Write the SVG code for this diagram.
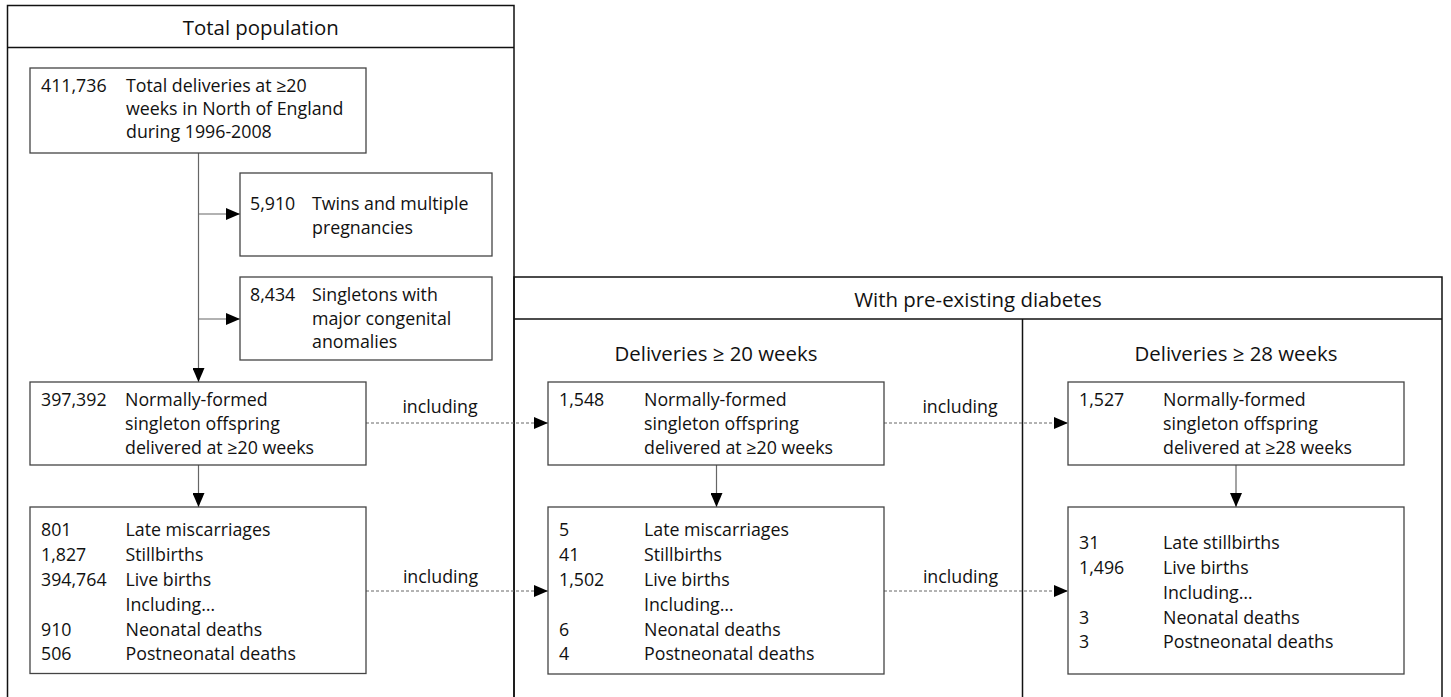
<svg xmlns="http://www.w3.org/2000/svg" width="1451" height="697" viewBox="0 0 1451 697">
<style>
  text { font-family: "Open Sans", "Liberation Sans", sans-serif; fill: #111; }
  .b { font-size: 17.8px; }
  .h { font-size: 20.4px; text-anchor: middle; }
  .lbl { font-size: 17.8px; text-anchor: middle; }
  .frame { fill: none; stroke: #111; stroke-width: 1.5; }
  .box { fill: #fff; stroke: #444; stroke-width: 1.3; }
  .solid { fill: none; stroke: #666; stroke-width: 1.2; marker-end: url(#arr); }
  .dash { fill: none; stroke: #666; stroke-width: 1; stroke-dasharray: 3 2; marker-end: url(#arr); }
</style>
<defs>
  <marker id="arr" viewBox="0 0 14 12" refX="14" refY="6" markerWidth="14" markerHeight="12" markerUnits="userSpaceOnUse" orient="auto">
    <path d="M0,0 L14,6 L0,12 Z" fill="#000"/>
  </marker>
</defs>

<rect width="1451" height="697" fill="#fff"/>

<g id="frame-total">
  <path class="frame" d="M7.5,705 V5.5 H514 V705"/>
  <line class="frame" x1="7.5" y1="47.5" x2="514" y2="47.5"/>
  <text class="h" x="260.75" y="35">Total population</text>
</g>

<g id="frame-diabetes">
  <path class="frame" d="M514,705 V277 H1442 V705"/>
  <line class="frame" x1="514" y1="319" x2="1442" y2="319"/>
  <line class="frame" x1="1022.5" y1="319" x2="1022.5" y2="705"/>
  <text class="h" x="978" y="307">With pre-existing diabetes</text>
  <text class="h" x="716" y="361">Deliveries ≥ 20 weeks</text>
  <text class="h" x="1236" y="361">Deliveries ≥ 28 weeks</text>
</g>

<g id="connectors">
  <line class="solid" x1="198.5" y1="153" x2="198.5" y2="382"/>
  <line class="solid" x1="198.5" y1="214" x2="240" y2="214"/>
  <line class="solid" x1="198.5" y1="319" x2="240" y2="319"/>
  <line class="solid" x1="198.5" y1="465" x2="198.5" y2="507"/>
  <line class="solid" x1="716.5" y1="465" x2="716.5" y2="507"/>
  <line class="solid" x1="1236" y1="465" x2="1236" y2="507"/>
  <line class="dash" x1="366" y1="423" x2="548" y2="423"/>
  <line class="dash" x1="884" y1="423" x2="1068" y2="423"/>
  <line class="dash" x1="366" y1="591" x2="548" y2="591"/>
  <line class="dash" x1="884" y1="591" x2="1068" y2="591"/>
  <text class="lbl" x="440" y="413">including</text>
  <text class="lbl" x="960" y="413">including</text>
  <text class="lbl" x="440.5" y="583">including</text>
  <text class="lbl" x="960.5" y="583">including</text>
</g>

<g id="n-total">
  <rect class="box" x="30" y="68" width="336" height="85"/>
  <text class="b" x="41" y="92">411,736</text>
  <text class="b" x="126" y="92">Total deliveries at ≥20</text>
  <text class="b" x="126" y="115">weeks in North of England</text>
  <text class="b" x="126" y="137.5">during 1996-2008</text>
</g>

<g id="n-twins">
  <rect class="box" x="240" y="173" width="252" height="83"/>
  <text class="b" x="250" y="210">5,910</text>
  <text class="b" x="312" y="210">Twins and multiple</text>
  <text class="b" x="312" y="233.5">pregnancies</text>
</g>

<g id="n-anomalies">
  <rect class="box" x="240" y="277" width="252" height="83"/>
  <text class="b" x="250" y="301">8,434</text>
  <text class="b" x="312" y="301">Singletons with</text>
  <text class="b" x="312" y="324.5">major congenital</text>
  <text class="b" x="312" y="348">anomalies</text>
</g>

<g id="n-normal20">
  <rect class="box" x="30" y="382" width="336" height="83"/>
  <text class="b" x="41" y="406">397,392</text>
  <text class="b" x="125" y="406">Normally-formed</text>
  <text class="b" x="125" y="430">singleton offspring</text>
  <text class="b" x="125" y="454">delivered at ≥20 weeks</text>
</g>

<g id="n-outcomes">
  <rect class="box" x="30" y="507" width="336" height="166.5"/>
  <text class="b" x="41" y="535.5">801</text>
  <text class="b" x="125.5" y="535.5">Late miscarriages</text>
  <text class="b" x="41" y="560.5">1,827</text>
  <text class="b" x="125.5" y="560.5">Stillbirths</text>
  <text class="b" x="41" y="585.5">394,764</text>
  <text class="b" x="125.5" y="585.5">Live births</text>
  <text class="b" x="125.5" y="610.5">Including…</text>
  <text class="b" x="41" y="635.5">910</text>
  <text class="b" x="125.5" y="635.5">Neonatal deaths</text>
  <text class="b" x="41" y="660">506</text>
  <text class="b" x="125.5" y="660">Postneonatal deaths</text>
</g>

<g id="n-diab20">
  <rect class="box" x="548" y="382" width="336" height="83"/>
  <text class="b" x="559" y="406">1,548</text>
  <text class="b" x="644" y="406">Normally-formed</text>
  <text class="b" x="644" y="430">singleton offspring</text>
  <text class="b" x="644" y="454">delivered at ≥20 weeks</text>
</g>

<g id="n-diab20-outcomes">
  <rect class="box" x="548" y="507" width="336" height="167"/>
  <text class="b" x="559" y="535.5">5</text>
  <text class="b" x="644" y="535.5">Late miscarriages</text>
  <text class="b" x="559" y="560.5">41</text>
  <text class="b" x="644" y="560.5">Stillbirths</text>
  <text class="b" x="559" y="585.5">1,502</text>
  <text class="b" x="644" y="585.5">Live births</text>
  <text class="b" x="644" y="610.5">Including…</text>
  <text class="b" x="559" y="635.5">6</text>
  <text class="b" x="644" y="635.5">Neonatal deaths</text>
  <text class="b" x="559" y="660">4</text>
  <text class="b" x="644" y="660">Postneonatal deaths</text>
</g>

<g id="n-diab28">
  <rect class="box" x="1068" y="382" width="336" height="83"/>
  <text class="b" x="1079" y="406">1,527</text>
  <text class="b" x="1163" y="406">Normally-formed</text>
  <text class="b" x="1163" y="430">singleton offspring</text>
  <text class="b" x="1163" y="454">delivered at ≥28 weeks</text>
</g>

<g id="n-diab28-outcomes">
  <rect class="box" x="1068" y="507" width="336" height="167"/>
  <text class="b" x="1079" y="548.5">31</text>
  <text class="b" x="1163" y="548.5">Late stillbirths</text>
  <text class="b" x="1079" y="573.5">1,496</text>
  <text class="b" x="1163" y="573.5">Live births</text>
  <text class="b" x="1163" y="598.5">Including…</text>
  <text class="b" x="1079" y="623.5">3</text>
  <text class="b" x="1163" y="623.5">Neonatal deaths</text>
  <text class="b" x="1079" y="647.5">3</text>
  <text class="b" x="1163" y="647.5">Postneonatal deaths</text>
</g>
</svg>
